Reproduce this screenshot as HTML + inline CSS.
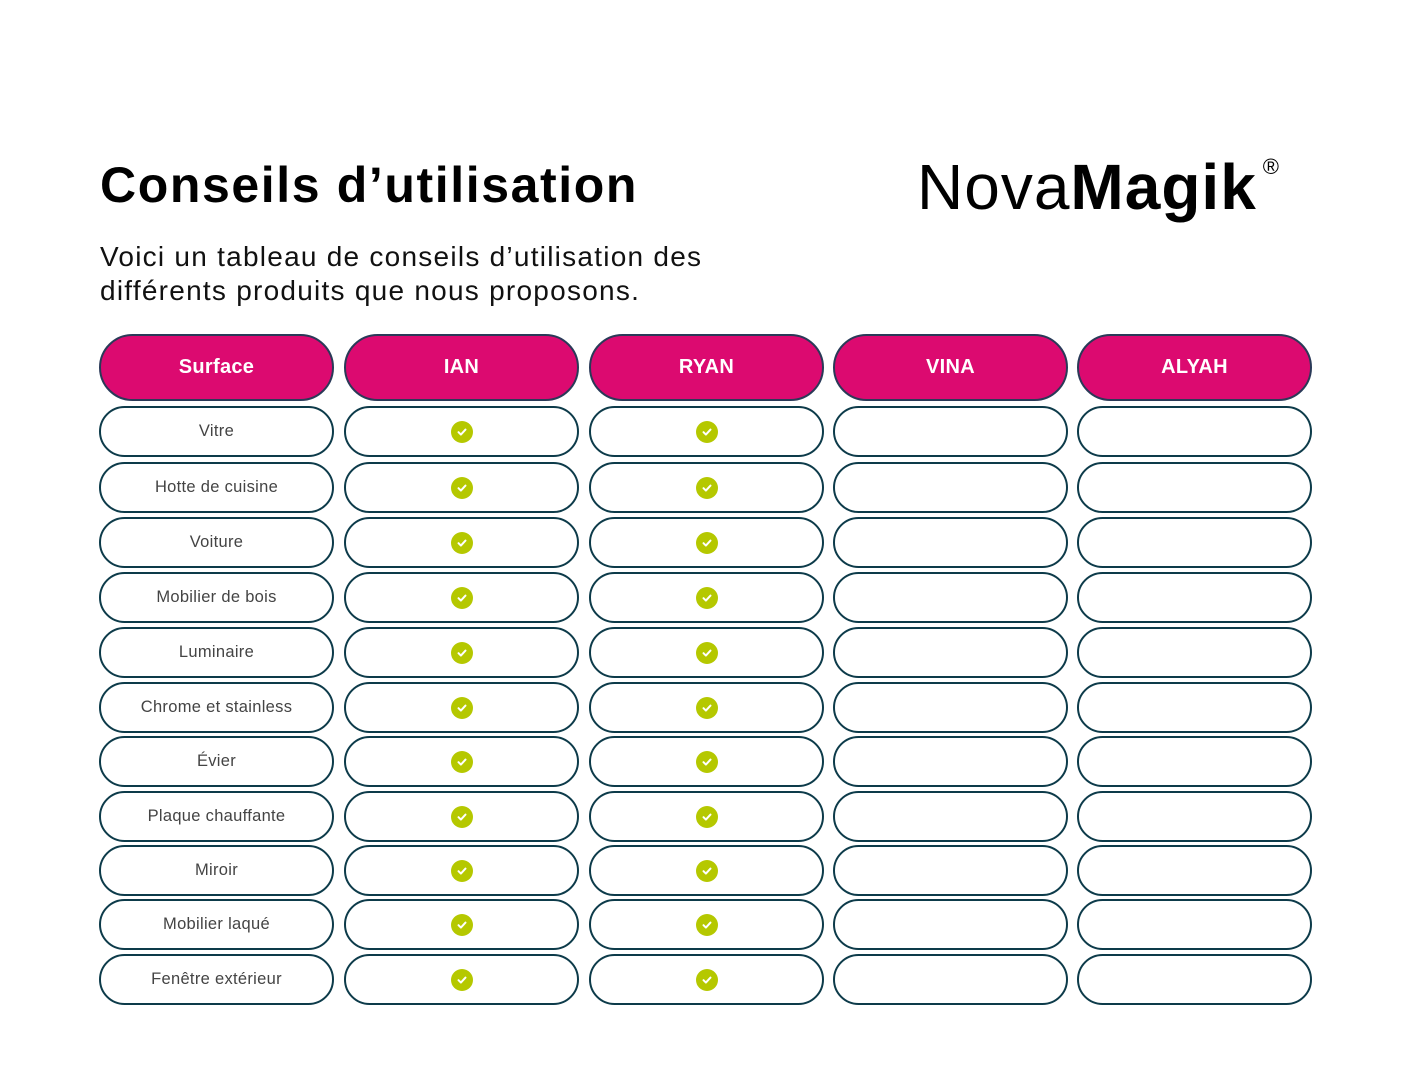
<!DOCTYPE html>
<html><head><meta charset="utf-8"><style>
body{margin:0;width:1414px;height:1078px;background:#fff;position:relative;overflow:hidden;font-family:"Liberation Sans",sans-serif}
.h1{position:absolute;left:100px;top:156px;font-size:50px;font-weight:bold;color:#000;letter-spacing:1.6px}
.sub{position:absolute;left:100px;top:240px;font-size:28px;line-height:34px;color:#111;letter-spacing:1.25px}
.logo{position:absolute;left:917px;top:150px;font-size:64px;color:#000;letter-spacing:0px;white-space:nowrap}
.logo .a{font-weight:300;letter-spacing:1px}
.logo b{font-weight:bold;letter-spacing:1px}
.logo sup{font-size:22px;vertical-align:top;position:relative;top:4px;margin-left:6px}
.c{position:absolute;box-sizing:border-box;width:235px;border:2px solid #0d3b4a;border-radius:26px;display:flex;align-items:center;justify-content:center;font-size:16.5px;color:#444;background:#fff;letter-spacing:0.3px}
.hd{background:#dc0a70;color:#fff;font-weight:bold;font-size:20px;border-radius:34px;border-color:#2a3a58;height:67px;top:334px}
.ck{width:22px;height:22px;border-radius:50%;background:#b5c800;display:flex;align-items:center;justify-content:center}
</style></head><body>
<div class="h1">Conseils d’utilisation</div>
<div class="sub">Voici un tableau de conseils d’utilisation des<br>différents produits que nous proposons.</div>
<div class="logo"><span class="a">Nova</span><b>Magik</b><sup>®</sup></div>
<div id="t"></div>
<script>
var xs=[99,344,589,833,1077],hs=["Surface","IAN","RYAN","VINA","ALYAH"];
var rows=["Vitre","Hotte de cuisine","Voiture","Mobilier de bois","Luminaire","Chrome et stainless","Évier","Plaque chauffante","Miroir","Mobilier laqué","Fenêtre extérieur"];
var cy=[431,487,542,597,652,707,761,816,870,924,979];
var s="";
var chk='<div class="ck"><svg width="12" height="12" viewBox="0 0 12 12"><path d="M2.5 6.2l2.4 2.4 4.6-5" stroke="#fff" stroke-width="2" fill="none" stroke-linecap="round" stroke-linejoin="round"/></svg></div>';
for(var i=0;i<5;i++)s+='<div class="c hd" style="left:'+xs[i]+'px">'+hs[i]+'</div>';
for(var r=0;r<11;r++)for(var i=0;i<5;i++){
var inner=i==0?rows[r]:(i<3?chk:"");
s+='<div class="c" style="left:'+xs[i]+'px;top:'+(cy[r]-25)+'px;height:51px">'+inner+'</div>';}
document.getElementById("t").innerHTML=s;
</script>
</body></html>
